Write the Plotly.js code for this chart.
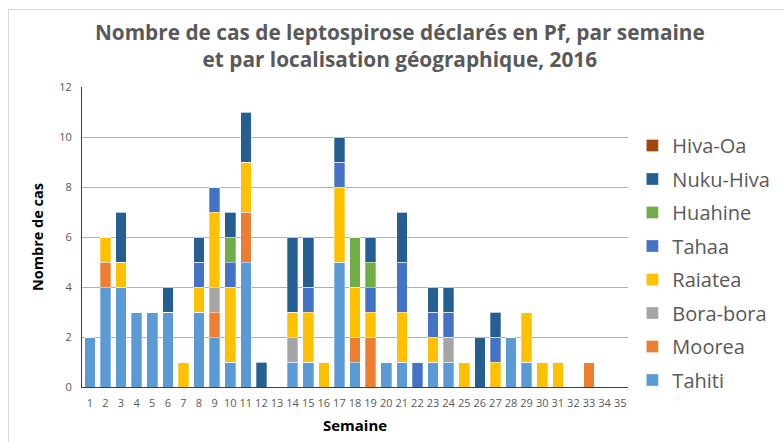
<!DOCTYPE html>
<html>
<head>
<meta charset="utf-8">
<script src="https://cdn.plot.ly/plotly-3.0.1.min.js"></script>
<style>
html,body{margin:0;padding:0;background:#fff;}
#chart{width:784px;height:442px;position:relative;}
#frame{position:absolute;left:8px;top:9px;width:790px;height:440px;border:1px solid #d9d9d9;pointer-events:none;}
</style>
</head>
<body>
<div id="chart"></div>
<div id="frame"></div>
<script>
const weeks = ["1","2","3","4","5","6","7","8","9","10","11","12","13","14","15","16","17","18","19","20","21","22","23","24","25","26","27","28","29","30","31","32","33","34","35"];
const tahiti   = [2,4,4,3,3,3,0,3,2,1,5,0,0,1,1,0,5,1,0,1,1,0,1,1,0,0,0,2,1,0,0,0,0,0,0];
const moorea   = [0,1,0,0,0,0,0,0,1,0,2,0,0,0,0,0,0,1,2,0,0,0,0,0,0,0,0,0,0,0,0,0,1,0,0];
const boraBora = [0,0,0,0,0,0,0,0,1,0,0,0,0,1,0,0,0,0,0,0,0,0,0,1,0,0,0,0,0,0,0,0,0,0,0];
const raiatea  = [0,1,1,0,0,0,1,1,3,3,2,0,0,1,2,1,3,2,1,0,2,0,1,0,1,0,1,0,2,1,1,0,0,0,0];
const tahaa    = [0,0,0,0,0,0,0,1,1,1,0,0,0,0,1,0,1,0,1,0,2,1,1,1,0,0,1,0,0,0,0,0,0,0,0];
const huahine  = [0,0,0,0,0,0,0,0,0,1,0,0,0,0,0,0,0,2,1,0,0,0,0,0,0,0,0,0,0,0,0,0,0,0,0];
const nukuHiva = [0,0,2,0,0,1,0,1,0,1,2,1,0,3,2,0,1,0,1,0,2,0,1,1,0,2,1,0,0,0,0,0,0,0,0];
const hivaOa   = [0,0,0,0,0,0,0,0,0,0,0,0,0,0,0,0,0,0,0,0,0,0,0,0,0,0,0,0,0,0,0,0,0,0,0];

const series = [
  {name:"Tahiti", y:tahiti, color:"#5B9BD5"},
  {name:"Moorea", y:moorea, color:"#ED7D31"},
  {name:"Bora-bora", y:boraBora, color:"#A5A5A5"},
  {name:"Raiatea", y:raiatea, color:"#FFC000"},
  {name:"Tahaa", y:tahaa, color:"#4472C4"},
  {name:"Huahine", y:huahine, color:"#70AD47"},
  {name:"Nuku-Hiva", y:nukuHiva, color:"#255E91"},
  {name:"Hiva-Oa", y:hivaOa, color:"#9E480E"}
];

const traces = series.map((s, i) => ({
  type:"bar", name:s.name, x:weeks, y:s.y,
  marker:{color:s.color, line:{color:"rgba(255,255,255,0.6)", width:0.5}},
  legendgroup:s.name, legendrank:1000 - i
}));

const layout = {
  width:784, height:442,
  paper_bgcolor:"#fff", plot_bgcolor:"#fff",
  barmode:"stack", bargap:0.32,
  margin:{l:82, r:156, t:87, b:55, autoexpand:false},
  font:{family:"Open Sans, sans-serif", color:"#595959"},
  title:{text:"<b>Nombre de cas de leptospirose déclarés en Pf, par semaine<br>et par localisation géographique, 2016</b>",
         font:{size:20.8, color:"#595959", family:"Open Sans, sans-serif"},
         x:0.51, xanchor:"center", y:0.91, yanchor:"top"},
  xaxis:{type:"category", tickfont:{size:11, color:"#595959"}, showline:true, linecolor:"#404040", linewidth:1,
         ticks:"", showgrid:false, ticklabelstandoff:6,
         title:{text:"<b>Semaine</b>", font:{size:15, color:"#000"}, standoff:11}},
  yaxis:{range:[0,12], dtick:2, tickfont:{size:11, color:"#595959"}, showline:true, linecolor:"#404040", linewidth:1,
         gridcolor:"#b0b0b0", gridwidth:1, zeroline:false, ticks:"", ticklabelstandoff:7,
         title:{text:"<b>Nombre de cas</b>", font:{size:14.5, color:"#000"}, standoff:12}},
  legend:{x:1.008, xanchor:"left", y:0.87, yanchor:"top", traceorder:"grouped", tracegroupgap:4.5,
          font:{size:20, color:"#595959"}, itemwidth:30},
  showlegend:true
};

Plotly.newPlot("chart", traces, layout, {displayModeBar:false, staticPlot:true});
</script>
</body>
</html>
